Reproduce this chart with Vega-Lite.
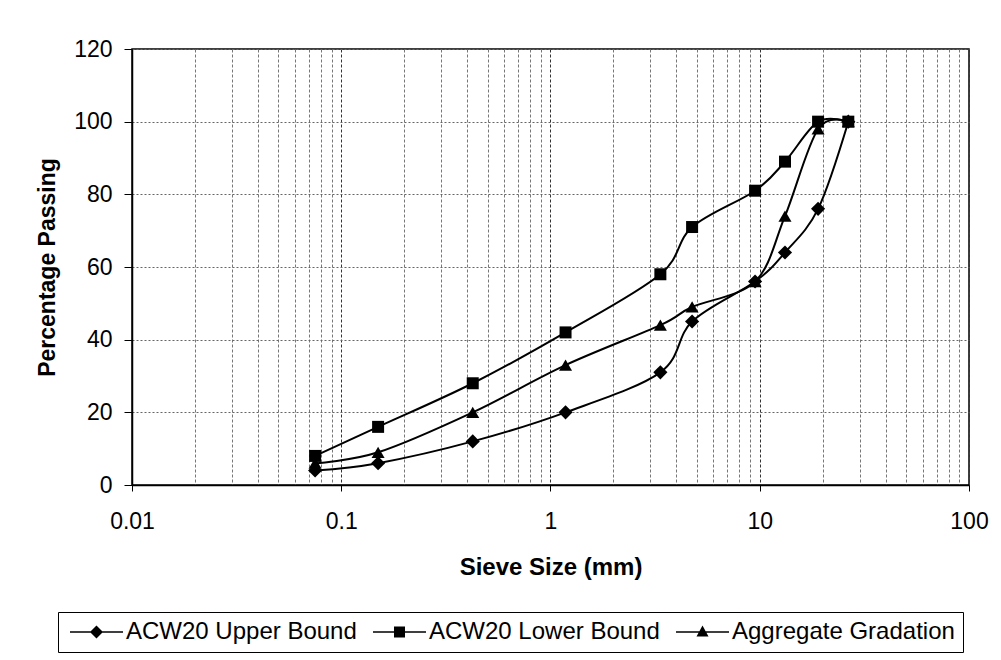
{
  "$schema": "https://vega.github.io/schema/vega-lite/v6.json",
  "width": 837,
  "height": 436,
  "autosize": {"type": "none"},
  "padding": {"left": 132, "top": 49, "right": 32, "bottom": 175},
  "background": "white",
  "config": {
    "font": "Liberation Sans",
    "view": {"stroke": "black", "strokeWidth": 1.5}
  },
  "data": {
    "values": [
      {"series": "ACW20 Upper Bound", "size": 0.075, "passing": 4},
      {"series": "ACW20 Upper Bound", "size": 0.15, "passing": 6},
      {"series": "ACW20 Upper Bound", "size": 0.425, "passing": 12},
      {"series": "ACW20 Upper Bound", "size": 1.18, "passing": 20},
      {"series": "ACW20 Upper Bound", "size": 3.35, "passing": 31},
      {"series": "ACW20 Upper Bound", "size": 4.75, "passing": 45},
      {"series": "ACW20 Upper Bound", "size": 9.5, "passing": 56},
      {"series": "ACW20 Upper Bound", "size": 13.2, "passing": 64},
      {"series": "ACW20 Upper Bound", "size": 19, "passing": 76},
      {"series": "ACW20 Upper Bound", "size": 26.5, "passing": 100},
      {"series": "ACW20 Lower Bound", "size": 0.075, "passing": 8},
      {"series": "ACW20 Lower Bound", "size": 0.15, "passing": 16},
      {"series": "ACW20 Lower Bound", "size": 0.425, "passing": 28},
      {"series": "ACW20 Lower Bound", "size": 1.18, "passing": 42},
      {"series": "ACW20 Lower Bound", "size": 3.35, "passing": 58},
      {"series": "ACW20 Lower Bound", "size": 4.75, "passing": 71},
      {"series": "ACW20 Lower Bound", "size": 9.5, "passing": 81},
      {"series": "ACW20 Lower Bound", "size": 13.2, "passing": 89},
      {"series": "ACW20 Lower Bound", "size": 19, "passing": 100},
      {"series": "ACW20 Lower Bound", "size": 26.5, "passing": 100},
      {"series": "Aggregate Gradation", "size": 0.075, "passing": 6},
      {"series": "Aggregate Gradation", "size": 0.15, "passing": 9},
      {"series": "Aggregate Gradation", "size": 0.425, "passing": 20},
      {"series": "Aggregate Gradation", "size": 1.18, "passing": 33},
      {"series": "Aggregate Gradation", "size": 3.35, "passing": 44},
      {"series": "Aggregate Gradation", "size": 4.75, "passing": 49},
      {"series": "Aggregate Gradation", "size": 9.5, "passing": 56},
      {"series": "Aggregate Gradation", "size": 13.2, "passing": 74},
      {"series": "Aggregate Gradation", "size": 19, "passing": 98},
      {"series": "Aggregate Gradation", "size": 26.5, "passing": 100}
    ]
  },
  "encoding": {
    "x": {
      "field": "size",
      "type": "quantitative",
      "scale": {"type": "log", "domain": [0.01, 100], "nice": false},
      "axis": {
        "title": "Sieve Size (mm)",
        "values": [0.01, 0.02, 0.03, 0.04, 0.05, 0.06, 0.07, 0.08, 0.09,
                   0.1, 0.2, 0.3, 0.4, 0.5, 0.6, 0.7, 0.8, 0.9,
                   1, 2, 3, 4, 5, 6, 7, 8, 9,
                   10, 20, 30, 40, 50, 60, 70, 80, 90, 100],
        "format": "~g",
        "labelExpr": "indexof([0.01, 0.1, 1, 10, 100], datum.value) >= 0 ? datum.label : ''",
        "tickSize": {"condition": {"test": "indexof([0.01, 0.1, 1, 10, 100], datum.value) >= 0", "value": 6}, "value": 0},
        "tickColor": "black",
        "domainColor": "black",
        "domainWidth": 1.5,
        "grid": true,
        "gridColor": {"condition": {"test": "indexof([0.01, 0.1, 1, 10, 100], datum.value) >= 0", "value": "#333"}, "value": "#777"},
        "gridDash": [3, 2],
        "gridWidth": 1,
        "labelFont": "Liberation Sans",
        "labelFontSize": 23,
        "labelColor": "black",
        "labelPadding": 19,
        "labelFlush": false,
        "labelOverlap": false,
        "titleFont": "Liberation Sans",
        "titleFontSize": 24,
        "titleFontWeight": "bold",
        "titleColor": "black",
        "titlePadding": 22
      }
    },
    "y": {
      "field": "passing",
      "type": "quantitative",
      "scale": {"domain": [0, 120], "nice": false},
      "axis": {
        "title": "Percentage Passing",
        "values": [0, 20, 40, 60, 80, 100, 120],
        "tickSize": 8,
        "tickColor": "black",
        "domainColor": "black",
        "domainWidth": 1.5,
        "grid": true,
        "gridColor": "#666",
        "gridDash": [2, 2],
        "gridWidth": 1,
        "labelFont": "Liberation Sans",
        "labelFontSize": 23,
        "labelColor": "black",
        "labelPadding": 12,
        "titleFont": "Liberation Sans",
        "titleFontSize": 23,
        "titleFontWeight": "bold",
        "titleColor": "black",
        "titlePadding": 14
      }
    }
  },
  "layer": [
    {
      "mark": {"type": "line", "interpolate": "cardinal", "color": "black", "strokeWidth": 2},
      "encoding": {"detail": {"field": "series"}}
    },
    {
      "transform": [{"filter": "datum.series === 'ACW20 Upper Bound'"}],
      "mark": {"type": "point", "shape": "diamond", "filled": true, "color": "black", "opacity": 1, "size": 200}
    },
    {
      "transform": [{"filter": "datum.series === 'ACW20 Lower Bound'"}],
      "mark": {"type": "point", "shape": "square", "filled": true, "color": "black", "opacity": 1, "size": 144}
    },
    {
      "transform": [{"filter": "datum.series === 'Aggregate Gradation'"}],
      "mark": {"type": "point", "shape": "triangle-up", "filled": true, "color": "black", "opacity": 1, "size": 170}
    },
    {
      "mark": {"type": "point", "filled": true, "color": "black", "opacity": 0, "size": 196},
      "encoding": {
        "shape": {
          "field": "series",
          "type": "nominal",
          "scale": {
            "domain": ["ACW20 Upper Bound", "ACW20 Lower Bound", "Aggregate Gradation"],
            "range": [
              "M-1.143,-0.12H6.429V0.12H-1.143ZM2.643,-0.93L3.57,0L2.643,0.93L1.71,0Z",
              "M-1.143,-0.12H6.429V0.12H-1.143ZM1.857,-0.786H3.429V0.786H1.857Z",
              "M-1.143,-0.12H6.429V0.12H-1.143ZM2.643,-0.93L3.5,0.64L1.786,0.64Z"
            ]
          },
          "legend": {
            "title": null,
            "orient": "none",
            "legendX": -74,
            "legendY": 563,
            "direction": "horizontal",
            "strokeColor": "black",
            "fillColor": "white",
            "padding": 8,
            "labelFont": "Liberation Sans",
            "labelFontSize": 24,
            "labelColor": "black",
            "labelLimit": 400,
            "labelOffset": 36,
            "columnPadding": 12,
            "symbolSize": 196,
            "symbolFillColor": "black",
            "symbolOpacity": 1
          }
        }
      }
    }
  ]
}
